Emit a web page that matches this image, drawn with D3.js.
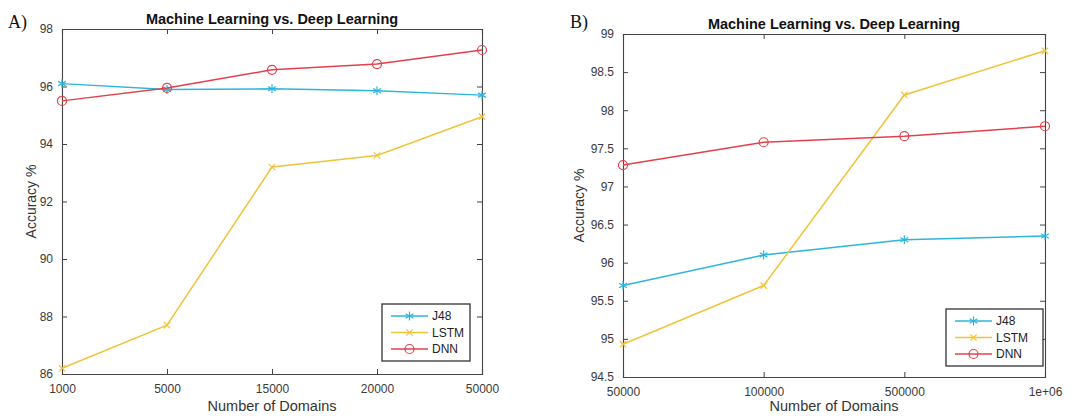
<!DOCTYPE html>
<html>
<head>
<meta charset="utf-8">
<script src="https://cdn.jsdelivr.net/npm/d3@7"></script>
<style>
  body { margin: 0; background: #fff; }
  svg { display: block; }
</style>
</head>
<body>
<svg id="chart" width="1072" height="416"></svg>
<script>
// series names + colours (shared by both panels)
var seriesNames = ["J48", "LSTM", "DNN"];
var seriesColors = ["#2db6dc", "#efc43a", "#e4404c"];
var seriesMarkers = ["star", "cross", "circle"];

// panel A
var domainsA = ["1000", "5000", "15000", "20000", "50000"];
var j48A  = [96.1, 95.9, 95.92, 95.85, 95.7];
var lstmA = [86.2, 87.7, 93.2, 93.6, 94.95];
var dnnA  = [95.5, 95.95, 96.58, 96.78, 97.27];
var yTicksA = [86, 88, 90, 92, 94, 96, 98];

// panel B
var domainsB = ["50000", "100000", "500000", "1e+06"];
var j48B  = [95.7, 96.1, 96.3, 96.35];
var lstmB = [94.93, 95.7, 98.2, 98.78];
var dnnB  = [97.28, 97.58, 97.66, 97.79];
var yTicksB = [94.5, 95, 95.5, 96, 96.5, 97, 97.5, 98, 98.5, 99];

var svg = d3.select("#chart");
var sans = "Liberation Sans, Arial, sans-serif";

function drawPanel(p) {
  var g = svg.append("g");

  var x = d3.scalePoint().domain(p.cats).range([p.left, p.right]);
  var y = d3.scaleLinear().domain([p.yTicks[0], p.yTicks[p.yTicks.length - 1]])
            .range([p.bottom, p.top]);

  // axes, MATLAB style (ticks inward, box all round)
  var axBottom = g.append("g").attr("transform", "translate(0," + p.bottom + ")")
      .call(d3.axisBottom(x).tickSize(-5).tickPadding(10));
  var axTop = g.append("g").attr("transform", "translate(0," + p.top + ")")
      .call(d3.axisTop(x).tickSize(-5).tickFormat(""));
  var axLeft = g.append("g").attr("transform", "translate(" + p.left + ",0)")
      .call(d3.axisLeft(y).tickValues(p.yTicks).tickFormat(function(d) { return d; })
            .tickSize(-5).tickPadding(9));
  var axRight = g.append("g").attr("transform", "translate(" + p.right + ",0)")
      .call(d3.axisRight(y).tickValues(p.yTicks).tickSize(-5).tickFormat(""));

  [axBottom, axTop, axLeft, axRight].forEach(function(a) {
    a.selectAll("path.domain").attr("stroke", "#444").attr("stroke-width", 1.1);
    a.selectAll(".tick line").attr("stroke", "#444");
    a.selectAll("text").attr("fill", "#3a3a3a")
      .style("font-family", sans).style("font-size", "12px");
  });

  // titles
  g.append("text").attr("x", (p.left + p.right) / 2).attr("y", p.top - 5)
    .attr("text-anchor", "middle").style("font-family", sans)
    .style("font-size", "14.5px").style("font-weight", "bold").attr("fill", "#111")
    .text("Machine Learning vs. Deep Learning");

  g.append("text").attr("x", p.labelX).attr("y", 28)
    .style("font-family", "Liberation Serif, Times New Roman, serif").style("font-size", "18px")
    .attr("fill", "#111").text(p.label);

  // x label sits right at the bottom edge, keep it inside the page
  g.append("text").attr("x", (p.left + p.right) / 2).attr("y", Math.min(p.bottom + 39, 411))
    .attr("text-anchor", "middle").style("font-family", sans)
    .style("font-size", "14.5px").attr("fill", "#333").text("Number of Domains");

  g.append("text")
    .attr("transform", "translate(" + p.yLabelX + "," + ((p.top + p.bottom) / 2) + ") rotate(-90)")
    .attr("text-anchor", "middle").style("font-family", sans)
    .style("font-size", "14px").attr("fill", "#333").text("Accuracy %");

  var line = d3.line().x(function(d, i) { return x(p.cats[i]); }).y(function(d) { return y(d); });

  p.series.forEach(function(vals, s) {
    g.append("path").datum(vals).attr("d", line)
      .attr("fill", "none").attr("stroke", seriesColors[s]).attr("stroke-width", 1.5);
    vals.forEach(function(v, i) {
      drawMarker(g, seriesMarkers[s], x(p.cats[i]), y(v), seriesColors[s]);
    });
  });

  // legend
  var lg = g.append("g").attr("transform", "translate(" + p.legX + "," + p.legY + ")");
  lg.append("rect").attr("width", p.legW).attr("height", 57)
    .attr("fill", "#fff").attr("stroke", "#333").attr("stroke-width", 1.3);
  seriesNames.forEach(function(name, s) {
    var yy = 12 + s * 16.5;
    lg.append("line").attr("x1", 9).attr("x2", 46).attr("y1", yy).attr("y2", yy)
      .attr("stroke", seriesColors[s]).attr("stroke-width", 1.5);
    drawMarker(lg, seriesMarkers[s], 27.5, yy, seriesColors[s]);
    lg.append("text").attr("x", 50).attr("y", yy + 4)
      .style("font-family", sans).style("font-size", "12px")
      .attr("fill", "#222").text(name);
  });
}

function drawMarker(g, kind, cx, cy, color) {
  var r = 4.5;
  if (kind == "circle") {
    g.append("circle").attr("cx", cx).attr("cy", cy).attr("r", r)
      .attr("fill", "none").attr("stroke", color).attr("stroke-width", 1.2);
  } else {
    var angles = kind == "star" ? [90, 30, 150] : [45, 135];
    angles.forEach(function(a) {
      var rad = a * Math.PI / 180;
      g.append("line")
        .attr("x1", cx - r * Math.cos(rad)).attr("y1", cy - r * Math.sin(rad))
        .attr("x2", cx + r * Math.cos(rad)).attr("y2", cy + r * Math.sin(rad))
        .attr("stroke", color).attr("stroke-width", 1.2);
    });
  }
}

drawPanel({
  cats: domainsA, series: [j48A, lstmA, dnnA], yTicks: yTicksA,
  left: 62, right: 482, top: 29, bottom: 374,
  label: "A)", labelX: 8, yLabelX: 36,
  legX: 382, legY: 304, legW: 88
});

drawPanel({
  cats: domainsB, series: [j48B, lstmB, dnnB], yTicks: yTicksB,
  left: 623, right: 1045, top: 34, bottom: 377,
  label: "B)", labelX: 570, yLabelX: 584,
  legX: 946, legY: 309, legW: 97
});
</script>
</body>
</html>
